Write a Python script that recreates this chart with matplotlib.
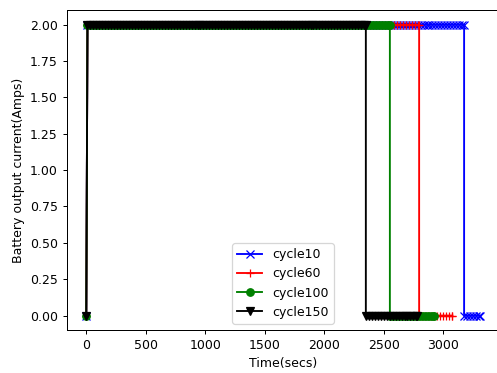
import matplotlib
matplotlib.use("Agg")
import matplotlib.pyplot as plt
import numpy as np

# Discharge runs: constant-current phase, then zero after cutoff
cycles = ["cycle10", "cycle60", "cycle100", "cycle150"]
colors = ["b", "r", "g", "k"]
markers = ["x", "+", "o", "v"]
start_time = 10          # secs, current switched on
cutoff_times = [3176, 2798, 2552, 2350]   # secs, current drops to zero
end_times = [3308, 3077, 2922, 2777]      # secs, last logged sample
current_on = 2.0         # Amps
current_off = 0.0
log_step = 25            # secs between logged samples


def build_run(cutoff, end):
    t_on = np.arange(start_time, cutoff, log_step)
    t_on = np.append(t_on, cutoff)
    t_off = np.arange(cutoff, end, log_step)
    t_off = np.append(t_off, end)
    t = np.concatenate([[0], t_on, t_off])
    i = np.concatenate([[current_off],
                        np.full(len(t_on), current_on),
                        np.full(len(t_off), current_off)])
    return t, i


DPI = 90
fig = plt.figure(figsize=(497 / DPI, 373 / DPI), dpi=DPI)
ax = fig.add_axes([0.134, 0.115, 0.871, 0.858])

for name, c, m, cut, end in zip(cycles, colors, markers, cutoff_times, end_times):
    t, i = build_run(cut, end)
    ax.plot(t, i, color=c, marker=m, label=name)

ax.set_xlabel("Time(secs)")
ax.set_ylabel("Battery output current(Amps)")
ax.legend(loc="lower center")

fig.savefig("out.png", dpi=DPI)
